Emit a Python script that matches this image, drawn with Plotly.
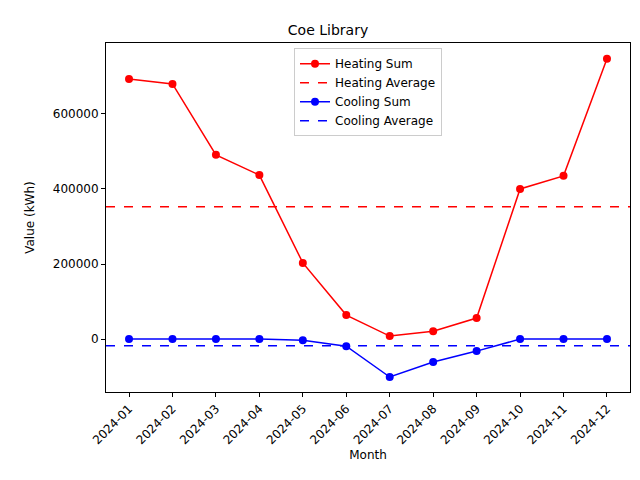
import plotly.graph_objects as go

months = ["2024-01","2024-02","2024-03","2024-04","2024-05","2024-06",
          "2024-07","2024-08","2024-09","2024-10","2024-11","2024-12"]
heating = [693000, 680000, 491000, 437000, 203000, 64000, 8000, 21000, 56000, 400000, 435000, 747000]
cooling = [0, 0, 0, 0, -3000, -19000, -101000, -61000, -32000, 0, 0, 0]

h_avg = sum(heating) / len(heating)
c_avg = sum(cooling) / len(cooling)
idx = list(range(len(months)))
xr = [-0.53, len(months) - 1 + 0.53]

fig = go.Figure()
fig.add_trace(go.Scatter(x=idx, y=heating, mode="lines+markers", name="Heating Sum",
                         line=dict(color="red", width=1.5), marker=dict(size=8, color="red")))
fig.add_trace(go.Scatter(x=xr, y=[h_avg, h_avg], mode="lines", name="Heating Average",
                         line=dict(color="red", width=1.5, dash="dash")))
fig.add_trace(go.Scatter(x=idx, y=cooling, mode="lines+markers", name="Cooling Sum",
                         line=dict(color="blue", width=1.5), marker=dict(size=8, color="blue")))
fig.add_trace(go.Scatter(x=xr, y=[c_avg, c_avg], mode="lines", name="Cooling Average",
                         line=dict(color="blue", width=1.5, dash="dash")))

axis_common = dict(showline=True, linecolor="black", linewidth=1, mirror=True,
                   ticks="outside", ticklen=4, tickcolor="black", showgrid=False,
                   zeroline=False, tickfont=dict(size=12, color="black"), automargin=False)
fig.update_xaxes(range=xr, tickvals=idx, ticktext=months, tickangle=-45,
                 title=dict(text="Month", font=dict(size=12, color="black"), standoff=4), **axis_common)
fig.update_yaxes(range=[-141000, 789000], tickvals=[0, 200000, 400000, 600000],
                 ticktext=["0", "200000", "400000", "600000"],
                 title=dict(text="Value (kWh)", font=dict(size=12, color="black")), **axis_common)
fig.update_layout(
    width=640, height=480, plot_bgcolor="white", paper_bgcolor="white",
    font=dict(family="DejaVu Sans", color="black"),
    title=dict(text="Coe Library", x=0.5, xanchor="center", y=0.955, yanchor="middle",
               font=dict(size=14), automargin=False),
    margin=dict(l=98, r=18, t=35, b=96, autoexpand=False),
    legend=dict(x=0.5, xanchor="center", y=0.985, yanchor="top", bgcolor="white",
                bordercolor="#cccccc", borderwidth=1, font=dict(size=12)),
)
fig.write_html("out.html")
